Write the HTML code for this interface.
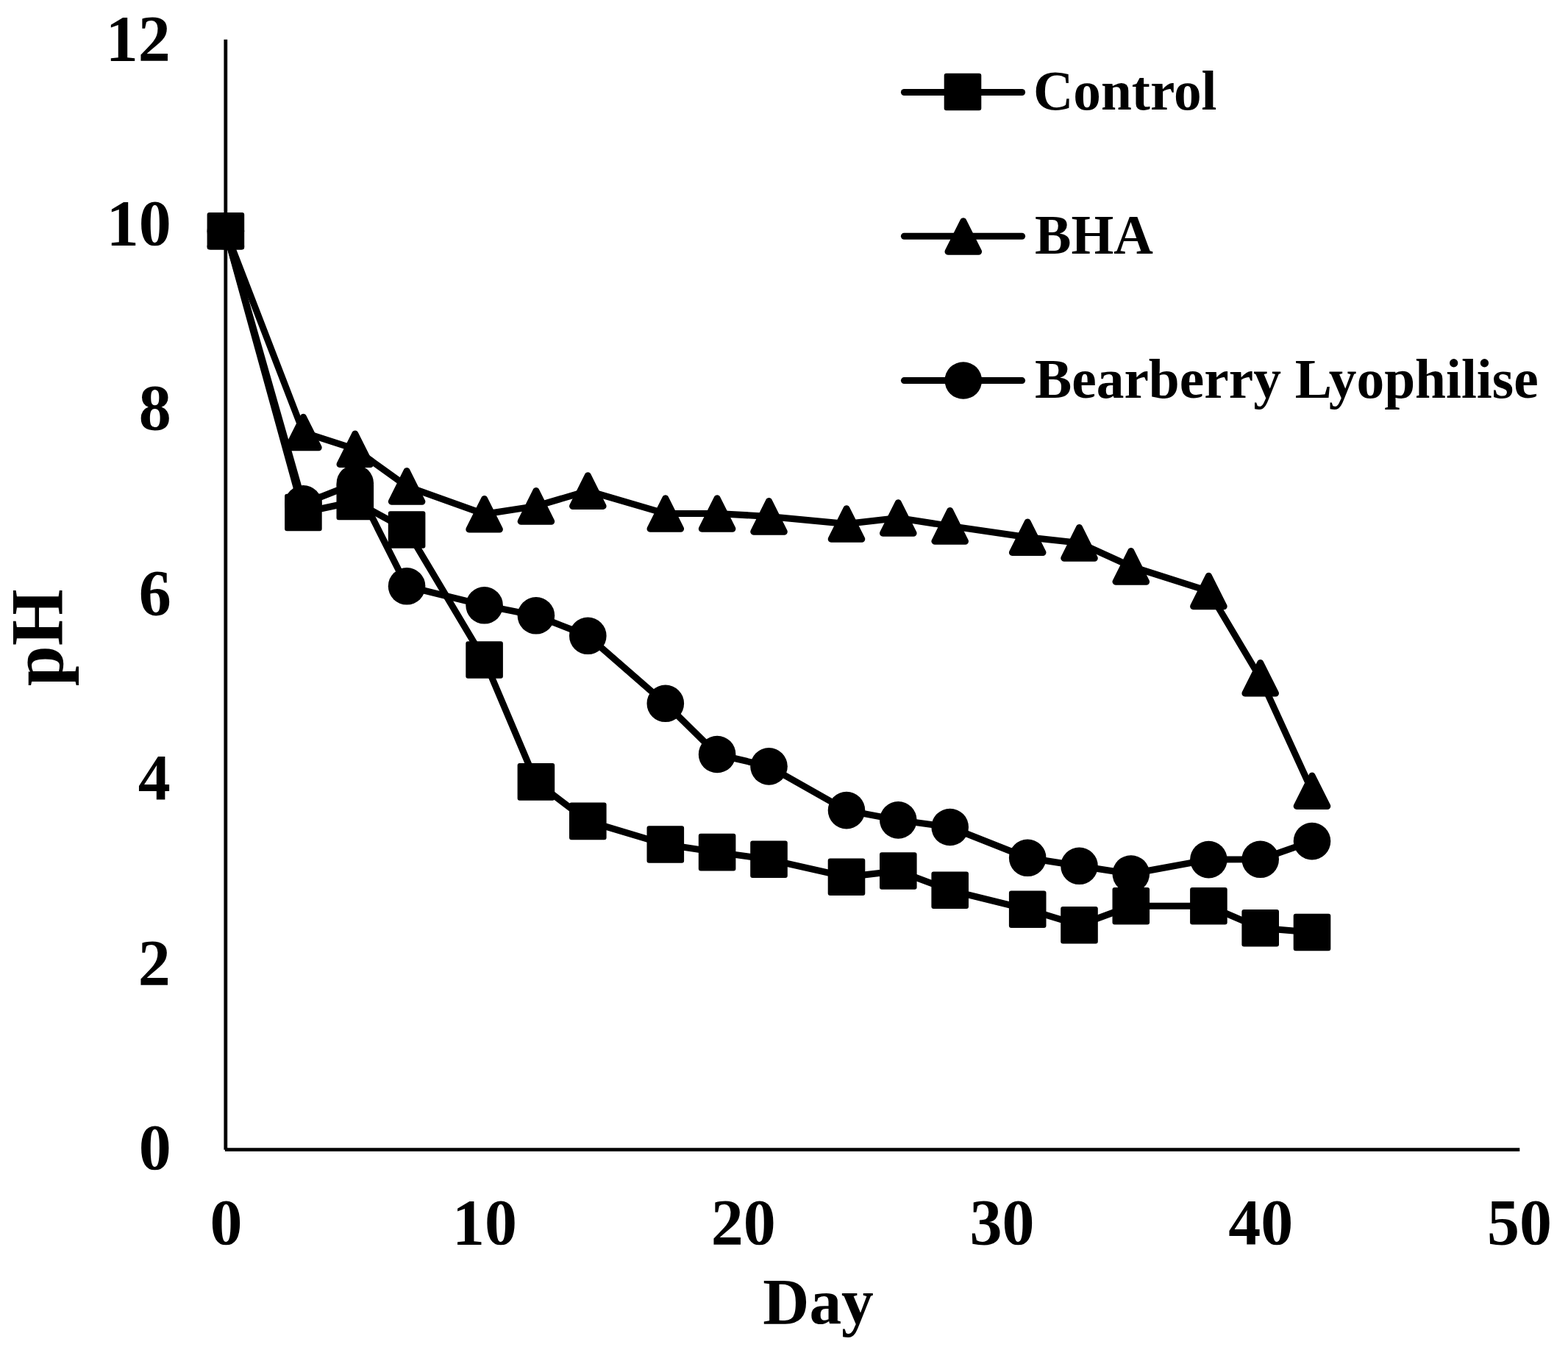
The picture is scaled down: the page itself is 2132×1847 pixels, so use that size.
<!DOCTYPE html>
<html lang="en"><head><meta charset="utf-8"><title>pH vs Day</title>
<style>
html,body{margin:0;padding:0;background:#fff;}
body{width:2132px;height:1847px;overflow:hidden;}
svg{display:block;}
text{font-family:"Liberation Serif","DejaVu Serif",serif;font-weight:bold;fill:#000;}
.tick{font-size:88px;}
.leg{font-size:76px;}
.xt{font-size:88.5px;}
.yt{font-size:102px;}
</style></head><body>
<svg width="2132" height="1847" viewBox="0 0 2132 1847">
<rect width="2132" height="1847" fill="#fff"/>
<g fill="none" stroke="#000" stroke-width="4.8" stroke-linecap="butt" stroke-linejoin="miter">
<line x1="306.8" y1="53.7" x2="306.8" y2="1563.8"/>
<line x1="305.9" y1="1563.7" x2="2066.3" y2="1563.7"/>
</g>
<g fill="none" stroke="#000" stroke-width="9.0" stroke-linecap="round" stroke-linejoin="round">
<polyline points="306.9,314.3 412.4,697.0 482.8,682.0 553.1,720.5 658.6,897.5 728.9,1063.4 799.3,1116.9 904.8,1148.5 975.1,1159.1 1045.5,1168.8 1151.0,1192.7 1221.3,1184.5 1291.7,1210.8 1397.2,1236.8 1467.5,1258.3 1537.8,1232.2 1643.4,1232.2 1713.7,1262.3 1784.0,1268.0"/>
<polyline points="306.9,314.3 412.4,588.0 482.8,610.8 553.1,661.4 658.6,699.3 728.9,688.4 799.3,667.6 904.8,698.5 975.1,698.5 1045.5,702.4 1151.0,712.5 1221.3,704.5 1291.7,715.4 1397.2,730.8 1467.5,738.4 1537.8,770.4 1643.4,804.0 1713.7,922.2 1784.0,1075.8"/>
<polyline points="306.9,314.3 412.4,685.3 482.8,657.5 553.1,797.3 658.6,823.3 728.9,837.3 799.3,864.8 904.8,956.8 975.1,1026.0 1045.5,1042.4 1151.0,1102.1 1221.3,1115.4 1291.7,1125.0 1397.2,1166.8 1467.5,1177.8 1537.8,1188.5 1643.4,1169.1 1713.7,1168.8 1784.0,1144.1"/>
<line x1="1229.4" y1="125.5" x2="1389.6" y2="125.5"/>
<line x1="1229.4" y1="321.3" x2="1389.6" y2="321.3"/>
<line x1="1229.4" y1="517.6" x2="1389.6" y2="517.6"/>
</g>
<g fill="#000" stroke="#000" stroke-width="6.0" stroke-linejoin="round">
<rect x="284.6" y="292.0" width="44.6" height="44.6"/>
<rect x="390.1" y="674.7" width="44.6" height="44.6"/>
<rect x="460.5" y="659.7" width="44.6" height="44.6"/>
<rect x="530.8" y="698.2" width="44.6" height="44.6"/>
<rect x="636.3" y="875.2" width="44.6" height="44.6"/>
<rect x="706.6" y="1041.1" width="44.6" height="44.6"/>
<rect x="777.0" y="1094.6" width="44.6" height="44.6"/>
<rect x="882.5" y="1126.2" width="44.6" height="44.6"/>
<rect x="952.8" y="1136.8" width="44.6" height="44.6"/>
<rect x="1023.2" y="1146.5" width="44.6" height="44.6"/>
<rect x="1128.7" y="1170.4" width="44.6" height="44.6"/>
<rect x="1199.0" y="1162.2" width="44.6" height="44.6"/>
<rect x="1269.4" y="1188.5" width="44.6" height="44.6"/>
<rect x="1374.9" y="1214.5" width="44.6" height="44.6"/>
<rect x="1445.2" y="1236.0" width="44.6" height="44.6"/>
<rect x="1515.5" y="1209.9" width="44.6" height="44.6"/>
<rect x="1621.1" y="1209.9" width="44.6" height="44.6"/>
<rect x="1691.4" y="1240.0" width="44.6" height="44.6"/>
<rect x="1761.7" y="1245.7" width="44.6" height="44.6"/>
<polygon stroke-width="9.0" points="306.9,293.5 286.1,335.1 327.7,335.1"/>
<polygon stroke-width="9.0" points="412.4,567.2 391.6,608.8 433.2,608.8"/>
<polygon stroke-width="9.0" points="482.8,590.0 462.0,631.6 503.6,631.6"/>
<polygon stroke-width="9.0" points="553.1,640.6 532.3,682.2 573.9,682.2"/>
<polygon stroke-width="9.0" points="658.6,678.5 637.8,720.1 679.4,720.1"/>
<polygon stroke-width="9.0" points="728.9,667.6 708.1,709.2 749.7,709.2"/>
<polygon stroke-width="9.0" points="799.3,646.8 778.5,688.4 820.1,688.4"/>
<polygon stroke-width="9.0" points="904.8,677.7 884.0,719.3 925.6,719.3"/>
<polygon stroke-width="9.0" points="975.1,677.7 954.3,719.3 995.9,719.3"/>
<polygon stroke-width="9.0" points="1045.5,681.6 1024.7,723.2 1066.3,723.2"/>
<polygon stroke-width="9.0" points="1151.0,691.7 1130.2,733.3 1171.8,733.3"/>
<polygon stroke-width="9.0" points="1221.3,683.7 1200.5,725.3 1242.1,725.3"/>
<polygon stroke-width="9.0" points="1291.7,694.6 1270.9,736.2 1312.5,736.2"/>
<polygon stroke-width="9.0" points="1397.2,710.0 1376.4,751.6 1418.0,751.6"/>
<polygon stroke-width="9.0" points="1467.5,717.6 1446.7,759.2 1488.3,759.2"/>
<polygon stroke-width="9.0" points="1537.8,749.6 1517.0,791.2 1558.6,791.2"/>
<polygon stroke-width="9.0" points="1643.4,783.2 1622.6,824.8 1664.2,824.8"/>
<polygon stroke-width="9.0" points="1713.7,901.4 1692.9,943.0 1734.5,943.0"/>
<polygon stroke-width="9.0" points="1784.0,1055.0 1763.2,1096.6 1804.8,1096.6"/>
<circle cx="306.9" cy="314.3" r="25.3" stroke="none"/>
<circle cx="412.4" cy="685.3" r="25.3" stroke="none"/>
<circle cx="482.8" cy="657.5" r="25.3" stroke="none"/>
<circle cx="553.1" cy="797.3" r="25.3" stroke="none"/>
<circle cx="658.6" cy="823.3" r="25.3" stroke="none"/>
<circle cx="728.9" cy="837.3" r="25.3" stroke="none"/>
<circle cx="799.3" cy="864.8" r="25.3" stroke="none"/>
<circle cx="904.8" cy="956.8" r="25.3" stroke="none"/>
<circle cx="975.1" cy="1026.0" r="25.3" stroke="none"/>
<circle cx="1045.5" cy="1042.4" r="25.3" stroke="none"/>
<circle cx="1151.0" cy="1102.1" r="25.3" stroke="none"/>
<circle cx="1221.3" cy="1115.4" r="25.3" stroke="none"/>
<circle cx="1291.7" cy="1125.0" r="25.3" stroke="none"/>
<circle cx="1397.2" cy="1166.8" r="25.3" stroke="none"/>
<circle cx="1467.5" cy="1177.8" r="25.3" stroke="none"/>
<circle cx="1537.8" cy="1188.5" r="25.3" stroke="none"/>
<circle cx="1643.4" cy="1169.1" r="25.3" stroke="none"/>
<circle cx="1713.7" cy="1168.8" r="25.3" stroke="none"/>
<circle cx="1784.0" cy="1144.1" r="25.3" stroke="none"/>
<rect x="1286.7" y="102.7" width="44.6" height="44.6"/>
<polygon stroke-width="9.0" points="1309.8,300.7 1289.0,342.3 1330.6,342.3"/>
<circle cx="1309.8" cy="517.5" r="25.3" stroke="none"/>
</g>
<text class="tick" x="231.8" y="81.5" text-anchor="end">12</text>
<text class="tick" x="232.8" y="332.9" text-anchor="end">10</text>
<text class="tick" x="232.8" y="584.4" text-anchor="end">8</text>
<text class="tick" x="232.8" y="835.8" text-anchor="end">6</text>
<text class="tick" x="231.8" y="1087.3" text-anchor="end">4</text>
<text class="tick" x="231.8" y="1338.8" text-anchor="end">2</text>
<text class="tick" x="232.8" y="1590.2" text-anchor="end">0</text>
<text class="tick" x="307.4" y="1692.2" text-anchor="middle">0</text>
<text class="tick" x="659.1" y="1692.2" text-anchor="middle">10</text>
<text class="tick" x="1010.8" y="1692.2" text-anchor="middle">20</text>
<text class="tick" x="1362.5" y="1692.2" text-anchor="middle">30</text>
<text class="tick" x="1714.2" y="1692.2" text-anchor="middle">40</text>
<text class="tick" x="2065.9" y="1692.2" text-anchor="middle">50</text>
<text class="xt" x="1037.3" y="1799.8" textLength="150.5" lengthAdjust="spacingAndGlyphs">Day</text>
<text class="yt" transform="translate(84.8 933.3) rotate(-90)" textLength="132.0" lengthAdjust="spacingAndGlyphs">pH</text>
<text class="leg" x="1405.0" y="148.9" textLength="249.5" lengthAdjust="spacingAndGlyphs">Control</text>
<text class="leg" x="1406.9" y="344.9" textLength="160.9" lengthAdjust="spacingAndGlyphs">BHA</text>
<text class="leg" x="1407.0" y="540.5" textLength="684.6" lengthAdjust="spacingAndGlyphs">Bearberry Lyophilise</text>
</svg></body></html>
